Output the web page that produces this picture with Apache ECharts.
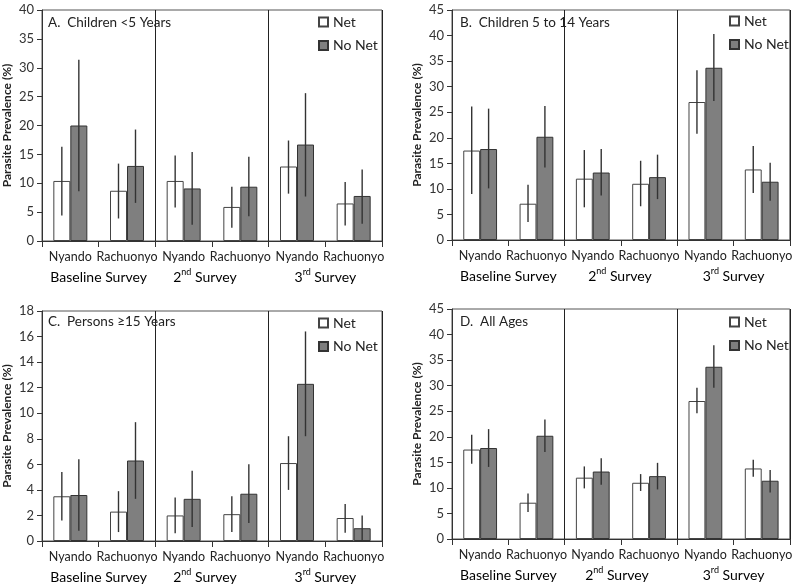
<!DOCTYPE html>
<html><head><meta charset="utf-8">
<script src="https://cdn.jsdelivr.net/npm/echarts@6/dist/echarts.min.js"></script>
<style>html,body{margin:0;padding:0;background:#fff}#c{width:795px;height:584px}</style>
</head><body><div id="c"></div>
<script>
// ---- data ----
const categories = ['Nyando', 'Rachuonyo', 'Nyando', 'Rachuonyo', 'Nyando', 'Rachuonyo'];
const surveys = ['Baseline', '2nd', '3rd'];
const panelTitles = ['A.  Children <5 Years', 'B.  Children 5 to 14 Years', 'C.  Persons \u226515 Years', 'D.  All Ages'];
const yMax = [40, 45, 18, 45];
const yStep = [5, 5, 2, 5];

// Panel A
const netA = [10.4, 8.7, 10.4, 5.9, 12.9, 6.5];
const netALo = [4.4, 3.9, 5.8, 2.3, 8.2, 2.7];
const netAHi = [16.3, 13.4, 14.8, 9.4, 17.4, 10.2];
const noA = [20.0, 13.0, 9.1, 9.4, 16.7, 7.8];
const noALo = [8.6, 6.6, 2.8, 4.3, 7.7, 3.0];
const noAHi = [31.4, 19.3, 15.4, 14.6, 25.6, 12.4];
// Panel B
const netB = [17.5, 7.1, 12.0, 11.0, 27.0, 13.8];
const netBLo = [9.0, 3.5, 6.4, 6.6, 20.8, 9.2];
const netBHi = [26.1, 10.8, 17.6, 15.5, 33.2, 18.4];
const noB = [17.8, 20.2, 13.2, 12.3, 33.7, 11.4];
const noBLo = [10.1, 14.2, 8.7, 8.0, 27.2, 7.7];
const noBHi = [25.7, 26.2, 17.8, 16.7, 40.3, 15.1];
// Panel C
const netC = [3.5, 2.3, 2.0, 2.1, 6.1, 1.8];
const netCLo = [1.6, 0.7, 0.6, 0.7, 4.0, 0.65];
const netCHi = [5.4, 3.9, 3.4, 3.5, 8.2, 2.9];
const noC = [3.6, 6.3, 3.3, 3.7, 12.3, 1.0];
const noCLo = [0.8, 3.3, 1.1, 1.4, 8.2, 0.0];
const noCHi = [6.4, 9.3, 5.5, 6.0, 16.4, 2.0];
// Panel D
const netD = [17.5, 7.1, 12.0, 11.0, 27.0, 13.8];
const netDLo = [14.7, 5.3, 9.9, 9.4, 24.6, 12.2];
const netDHi = [20.4, 8.9, 14.2, 12.7, 29.6, 15.5];
const noD = [17.8, 20.2, 13.2, 12.3, 33.7, 11.4];
const noDLo = [14.1, 17.0, 10.6, 9.7, 29.6, 9.1];
const noDHi = [21.5, 23.4, 15.8, 14.9, 37.9, 13.5];

const panels = [
  {net: netA, netLo: netALo, netHi: netAHi, no: noA, noLo: noALo, noHi: noAHi},
  {net: netB, netLo: netBLo, netHi: netBHi, no: noB, noLo: noBLo, noHi: noBHi},
  {net: netC, netLo: netCLo, netHi: netCHi, no: noC, noLo: noCLo, noHi: noCHi},
  {net: netD, netLo: netDLo, netHi: netDHi, no: noD, noLo: noDLo, noHi: noDHi}
];

// ---- layout ----
const FONT = 'Lato';
const grids = [
  {left: 41, top: 10, width: 341, height: 231},
  {left: 452, top: 10, width: 341, height: 230},
  {left: 41, top: 311, width: 341, height: 230},
  {left: 452, top: 309, width: 341, height: 230}
];
const legendPos = [[318, 14], [729, 13], [318, 315], [729, 314]];
const titlePos = [[48, 25], [460, 25], [48, 324], [460, 324]];
const surveyShift = [[0, -7, 0], [0, -1, 0], [0, -7, 0], [0, -4, 0]];
const BAR_FRAC = 0.30;

const chart = echarts.init(document.getElementById('c'), null, {renderer: 'canvas'});

function errRender(side) {
  return function (params, api) {
    const xi = api.value(0);
    const p1 = api.coord([xi, api.value(1)]);
    const p2 = api.coord([xi, api.value(2)]);
    const band = api.size([1, 0])[0];
    const x = p1[0] + side * band * BAR_FRAC / 2;
    return {type: 'line', shape: {x1: x, y1: p1[1], x2: x, y2: p2[1]},
            style: {stroke: '#333', lineWidth: 1.4}};
  };
}

const series = [];
const xAxes = [], yAxes = [], legends = [];
panels.forEach((p, i) => {
  xAxes.push({
    type: 'category', gridIndex: i, data: categories,
    axisLine: {lineStyle: {color: '#333', width: 1}},
    axisTick: {show: true, interval: 0, length: 6, lineStyle: {color: '#333'}},
    axisLabel: {interval: 0, margin: 9, fontFamily: FONT, fontSize: 12.5, color: '#222'},
    splitLine: {show: true, interval: function (idx) { return idx === 2 || idx === 4; },
                lineStyle: {color: '#222', width: 1}}
  });
  yAxes.push({
    type: 'value', gridIndex: i, min: 0, max: yMax[i], interval: yStep[i],
    name: 'Parasite Prevalence (%)', nameLocation: 'middle', nameGap: 29,
    nameTextStyle: {fontFamily: FONT, fontWeight: 'bold', fontSize: 12, color: '#222'},
    axisLine: {show: true, lineStyle: {color: '#333'}},
    axisTick: {show: true, length: 5, lineStyle: {color: '#333'}},
    axisLabel: {margin: 8, fontFamily: FONT, fontSize: 13, color: '#333'},
    splitLine: {show: false}
  });
  legends.push({
    left: legendPos[i][0], top: legendPos[i][1], orient: 'vertical', padding: 0,
    itemWidth: 9, itemHeight: 9, itemGap: 7.5, icon: 'rect',
    data: ['Net', 'No Net'], selectedMode: false,
    textStyle: {fontFamily: FONT, fontSize: 14, color: '#222', lineHeight: 16}
  });
  series.push({
    type: 'bar', name: 'Net', xAxisIndex: i, yAxisIndex: i, data: p.net,
    barWidth: '30%', barGap: '0%',
    itemStyle: {color: '#ffffff', borderColor: '#444', borderWidth: 1}
  });
  series.push({
    type: 'bar', name: 'No Net', xAxisIndex: i, yAxisIndex: i, data: p.no,
    barWidth: '30%', barGap: '0%',
    itemStyle: {color: '#7f7f7f', borderColor: '#333', borderWidth: 1}
  });
  series.push({
    type: 'custom', name: 'err-net', xAxisIndex: i, yAxisIndex: i, z: 5,
    renderItem: errRender(-1), encode: {x: 0, y: [1, 2]},
    data: p.net.map((v, k) => [k, p.netLo[k], p.netHi[k]]), silent: true
  });
  series.push({
    type: 'custom', name: 'err-nonet', xAxisIndex: i, yAxisIndex: i, z: 5,
    renderItem: errRender(1), encode: {x: 0, y: [1, 2]},
    data: p.no.map((v, k) => [k, p.noLo[k], p.noHi[k]]), silent: true
  });
});

chart.setOption({
  animation: false,
  backgroundColor: '#fff',
  grid: grids.map(g => Object.assign({show: true, borderColor: '#555', borderWidth: 1,
                                       backgroundColor: 'transparent', containLabel: false}, g)),
  xAxis: xAxes, yAxis: yAxes, legend: legends, series: series
});

// titles and survey labels
const graphics = [];
panels.forEach((p, i) => {
  graphics.push({
    type: 'text', left: titlePos[i][0], top: titlePos[i][1] - 9,
    style: {text: panelTitles[i], fontFamily: FONT, fontSize: 13.5, fill: '#222'}
  });
  const axisY = grids[i].top + grids[i].height;
  surveys.forEach((s, j) => {
    const a = chart.convertToPixel({xAxisIndex: i}, j * 2);
    const b = chart.convertToPixel({xAxisIndex: i}, j * 2 + 1);
    const cx = (a + b) / 2 + surveyShift[i][j];
    let text;
    if (j === 0) {
      text = '{m|Baseline Survey}';
    } else {
      text = '{m|' + s.charAt(0) + '}{s|' + s.slice(1) + '}{m| Survey}';
    }
    graphics.push({
      type: 'text', x: cx, y: axisY + 36,
      style: {
        text: text, align: 'center', verticalAlign: 'middle',
        rich: {
          m: {fontFamily: FONT, fontSize: 14, color: '#222', lineHeight: 18},
          s: {fontFamily: FONT, fontSize: 9, color: '#222', lineHeight: 18, verticalAlign: 'top'}
        }
      }
    });
  });
});
chart.setOption({graphic: graphics});
</script>
</body></html>
